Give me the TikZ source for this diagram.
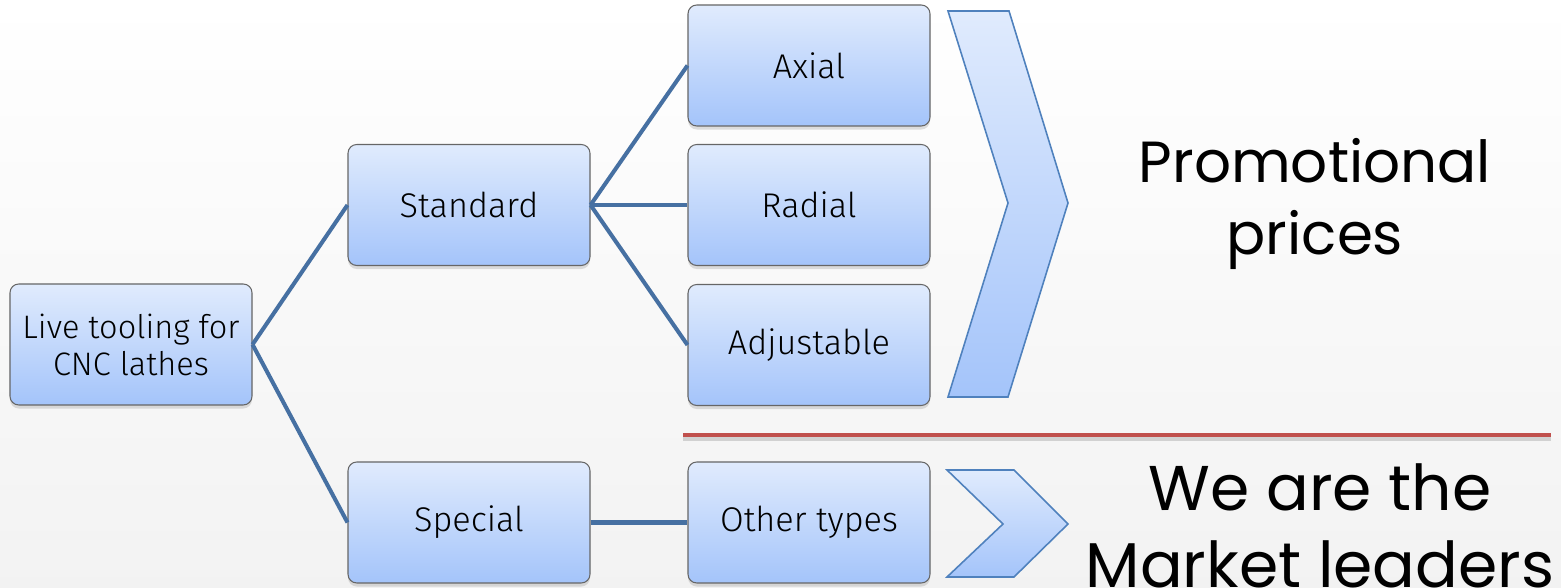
\documentclass[tikz,border=0pt]{standalone}
\usepackage{fontspec}
\setmainfont{Fira Sans Light}
\newfontfamily\gothic{Poppins}
\usetikzlibrary{shadows}

\definecolor{linkblue}{RGB}{70,112,162}
\definecolor{boxtop}{RGB}{224,235,253}
\definecolor{boxbot}{RGB}{164,196,250}
\definecolor{chevronline}{RGB}{79,129,189}
\definecolor{rulered}{RGB}{192,80,77}

\begin{document}
\begin{tikzpicture}[
  tool/.style={draw=gray!80!black, line width=0.6pt, rounded corners=5pt,
    minimum width=4.84cm, minimum height=2.42cm, top color=boxtop, bottom color=boxbot,
    align=center, font=\fontsize{19.5}{21}\selectfont,
    drop shadow={shadow xshift=0pt, shadow yshift=-2pt, opacity=0.25}},
  link/.style={linkblue, line width=2.3pt},
  chevron/.style={draw=chevronline, line width=0.9pt, top color=boxtop, bottom color=boxbot},
  slogan/.style={align=center, font=\gothic\fontsize{33}{41.5}\selectfont}]

\useasboundingbox (0,0) rectangle (31.22,-11.76);
\shade[top color=white, bottom color=gray!10] (0,0) rectangle (31.22,-11.76);
\clip (0,0) rectangle (31.22,-11.76);

\node[tool, inner xsep=2pt, font=\fontsize{18.5}{21}\selectfont] (live) at (2.62,-6.89) {Live tooling for\\CNC lathes};
\node[tool] (standard) at (9.38,-4.10) {Standard};
\node[tool] (special) at (9.38,-10.45) {Special};
\node[tool] (other) at (16.18,-10.45) {Other types};

\draw[link] (live.east) -- (standard.west);
\draw[link] (live.east) -- (special.west);
\draw[link] (special.east) -- (other.west);

\foreach \name/\txt/\y in {axial/Axial/-1.31, radial/Radial/-4.10, adjustable/Adjustable/-6.90} {
  \node[tool] (\name) at (16.18,\y) {\txt};
  \draw[link] (standard.east) -- (\name.west);
}

\path[chevron] (18.96,-0.22) -- (20.18,-0.22) -- (21.36,-4.06) -- (20.16,-7.94)
  -- (18.96,-7.94) -- (20.16,-4.06) -- cycle;
\path[chevron] (18.94,-9.40) -- (20.28,-9.40) -- (21.36,-10.48) -- (20.28,-11.54)
  -- (18.94,-11.54) -- (20.06,-10.48) -- cycle;

\coordinate (rulestart) at (13.66,-8.70);
\coordinate (ruleend) at (31.02,-8.70);
\draw[gray, opacity=0.3, line width=3pt] ([yshift=-2pt]rulestart) -- ([yshift=-2pt]ruleend);
\draw[rulered, line width=2.8pt] (rulestart) -- (ruleend);

\node[slogan] (promo) at (26.3,-4.08) {Promotional\\prices};
\node[slogan, font=\gothic\fontsize{36}{43.8}\selectfont] (leaders) at (26.4,-10.52) {We are the\\Market leaders};
\end{tikzpicture}
\end{document}
